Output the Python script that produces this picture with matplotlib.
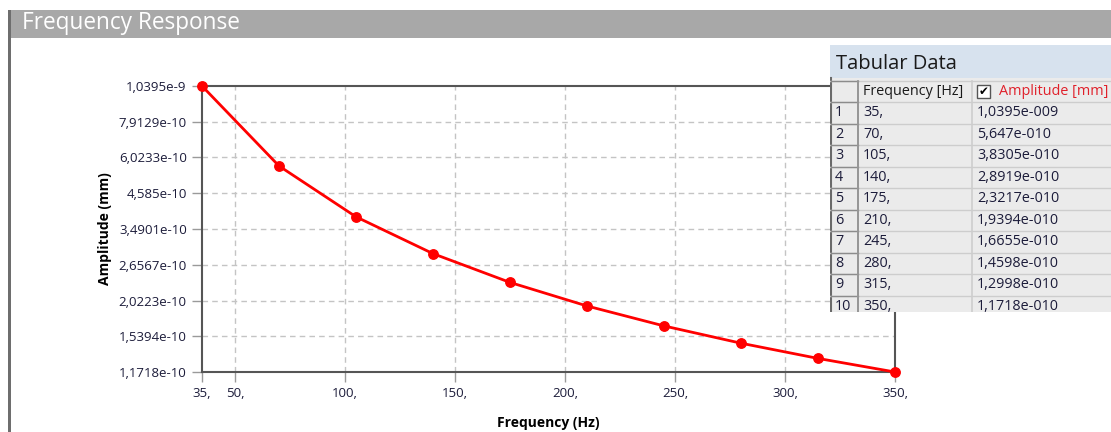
import matplotlib

matplotlib.use("Agg")
import matplotlib.pyplot as plt
from matplotlib.patches import Rectangle
from matplotlib.ticker import FixedLocator, NullLocator

plt.rcParams["font.family"] = ["Open Sans", "DejaVu Sans"]

freq = [35, 70, 105, 140, 175, 210, 245, 280, 315, 350]
amplitude = [1.0395e-9, 5.647e-10, 3.8305e-10, 2.8919e-10, 2.3217e-10,
             1.9394e-10, 1.6655e-10, 1.4598e-10, 1.2998e-10, 1.1718e-10]
y_ticks = [1.1718e-10, 1.5394e-10, 2.0223e-10, 2.6567e-10, 3.4901e-10,
           4.585e-10, 6.0233e-10, 7.9129e-10, 1.0395e-9]
x_ticks = [35, 50, 100, 150, 200, 250, 300, 350]
x_grid = [50, 100, 150, 200, 250, 300]

W, H = 1111, 432
TXT = "#1c1c3a"


def sci(v, pad=False):
    m, e = f"{v:.4e}".split("e")
    m = m.rstrip("0").rstrip(".").replace(".", ",")
    e = f"{int(e):+04d}" if pad else str(int(e))
    return f"{m}e{e}"


fig = plt.figure(figsize=(W / 100, H / 100), dpi=100)
fig.patch.set_facecolor("white")

# background: title bar and window border, in pixel coords
bg = fig.add_axes([0, 0, 1, 1], zorder=0)
bg.set_xlim(0, W)
bg.set_ylim(H, 0)
bg.axis("off")
bg.add_patch(Rectangle((10, 10), W - 10, 28, color="#a8a8a8", lw=0))
bg.add_patch(Rectangle((8, 10), 3, H - 10, color="#6e6e6e", lw=0))
bg.text(22, 23, "Frequency Response", color="white", fontsize=16.3,
        va="center", ha="left")

# main plot
ax = fig.add_axes([202 / W, 60 / H, 693 / W, 286 / H], zorder=1)
ax.plot(freq, amplitude, color="#ff0000", lw=2, marker="o", ms=6.8,
        clip_on=False, zorder=5)
ax.set_yscale("log")
ax.set_xlim(35, 350)
ax.set_ylim(y_ticks[0], y_ticks[-1])
ax.yaxis.set_major_locator(FixedLocator(y_ticks))
ax.yaxis.set_minor_locator(NullLocator())
ax.set_yticklabels([sci(v) for v in y_ticks])
ax.set_xticks(x_ticks)
ax.set_xticklabels([f"{v}," for v in x_ticks])
ax.tick_params(axis="both", direction="out", length=7, width=1,
               color="#9a9a9a", labelsize=9.5, labelcolor=TXT, pad=4)
for v in x_grid:
    ax.axvline(v, color="#c4c4c4", lw=1, ls=(0, (4, 3)), zorder=1)
for v in y_ticks[1:-1]:
    ax.axhline(v, color="#c4c4c4", lw=1, ls=(0, (4, 3)), zorder=1)
for s in ax.spines.values():
    s.set_color("#555555")
    s.set_linewidth(1.5)
ax.set_xlabel("Frequency (Hz)", fontsize=10, fontweight="bold", labelpad=11)
ax.set_ylabel("Amplitude (mm)", fontsize=10, fontweight="bold", labelpad=5)

# tabular data panel
top, bottom, left = 45, 312, 830
tab = fig.add_axes([left / W, (H - bottom) / H, (W - left) / W,
                    (bottom - top) / H], zorder=2)
tab.set_xlim(left, W)
tab.set_ylim(bottom, top)
tab.axis("off")
tab.add_patch(Rectangle((left, top), W - left, bottom - top,
                        color="#ebebeb", lw=0))
tab.add_patch(Rectangle((left, top), W - left, 33, color="#d7e2ee", lw=0))
tab.text(836, top + 19, "Tabular Data", fontsize=14.5, color="#1a1a1a",
         va="center")

row_h = 21.5
head_top = 80.5
col_x = [831, 858, 972]
tab.plot([left + 1, left + 1], [top + 33, bottom], color="#6a6a6a", lw=1.5)
for i in range(len(freq) + 2):
    y = head_top + i * row_h
    tab.plot([left, W], [y, y], color="#cdcdcd", lw=1)
    tab.plot([col_x[0], col_x[1]], [y, y], color="#8c8c8c", lw=1)
for x in col_x[1:]:
    tab.plot([x, x], [head_top, bottom], color="#cdcdcd", lw=1.2)
tab.plot([col_x[1], col_x[1]], [head_top, bottom], color="#8c8c8c", lw=1.2)
hy = head_top + row_h / 2
tab.text(863, hy, "Frequency [Hz]", fontsize=10.4, color="#1a1a1a",
         va="center")
tab.add_patch(Rectangle((977, hy - 6.5), 13, 13, facecolor="white",
                        edgecolor="#555555", lw=1))
tab.text(983.5, hy, "\u2714", fontsize=8.5, color="black", ha="center",
         va="center", family="DejaVu Sans")
tab.text(999, hy, "Amplitude [mm]", fontsize=10.4, color="#e0202a",
         va="center")
for i, (f, a) in enumerate(zip(freq, amplitude)):
    y = head_top + (i + 1.5) * row_h
    tab.text(835, y, str(i + 1), fontsize=10.4, color=TXT, va="center")
    tab.text(863, y, f"{f},", fontsize=10.4, color=TXT, va="center")
    tab.text(977, y, sci(a, pad=True), fontsize=10.4, color=TXT, va="center")

fig.savefig("out.png", dpi=100)
